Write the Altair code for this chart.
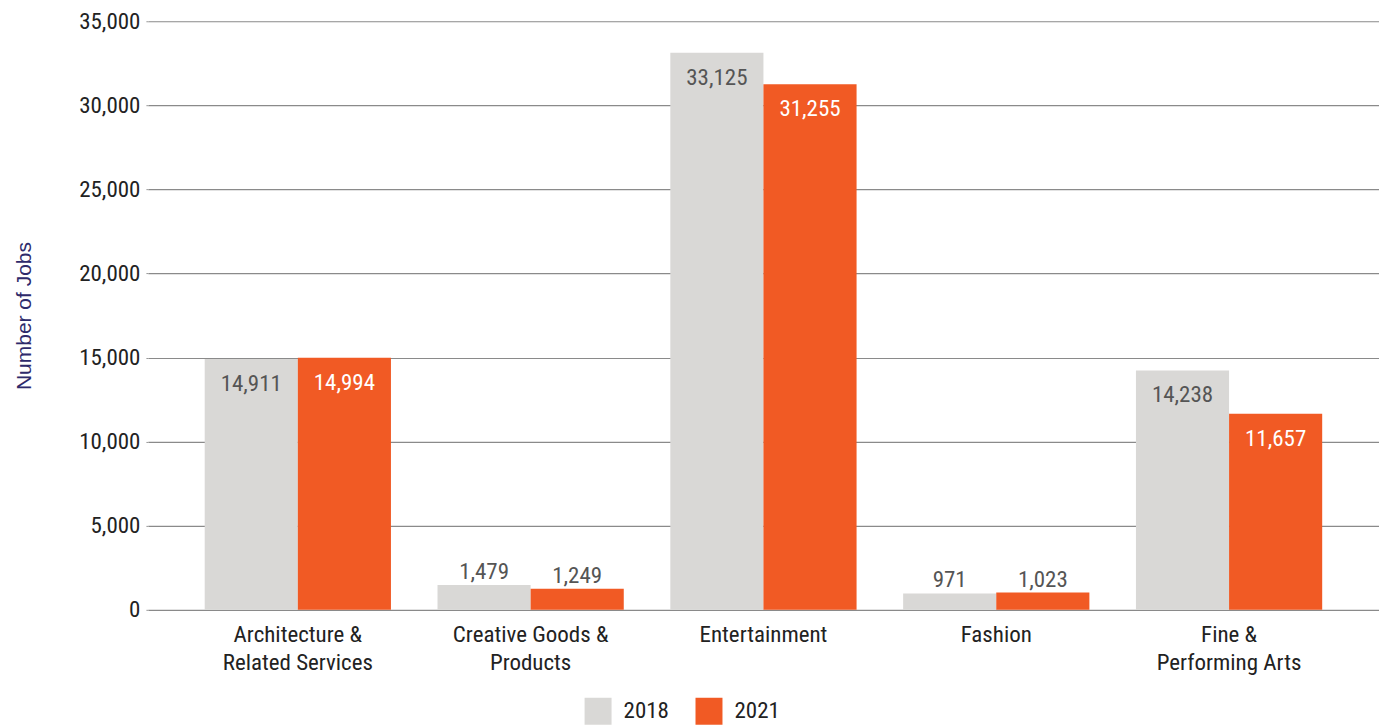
import altair as alt
import pandas as pd

categories = ["Architecture &\nRelated Services", "Creative Goods &\nProducts", "Entertainment", "Fashion", "Fine &\nPerforming Arts"]
years = ["2018", "2021"]
jobs_2018 = [14911, 1479, 33125, 971, 14238]
jobs_2021 = [14994, 1249, 31255, 1023, 11657]
y_ticks = [0, 5000, 10000, 15000, 20000, 25000, 30000, 35000]

rows = []
for c, a, b in zip(categories, jobs_2018, jobs_2021):
    rows.append({"cat": c, "year": "2018", "jobs": a})
    rows.append({"cat": c, "year": "2021", "jobs": b})
df = pd.DataFrame(rows)

FONT = "Roboto Condensed, Liberation Sans Narrow, DejaVu Sans Condensed, Roboto"
GRAY = "#d9d8d6"
ORANGE = "#f15a24"

x_enc = alt.X("cat:N", sort=categories, title=None,
              scale=alt.Scale(paddingInner=0.2, paddingOuter=0.244),
              axis=alt.Axis(labelExpr="split(datum.label, '\\n')", labelAngle=0,
                            labelFont=FONT, labelFontSize=23, labelColor="#222222",
                            labelLineHeight=28, labelPadding=14, ticks=False,
                            domain=False, grid=False))
y_enc = alt.Y("jobs:Q", title="Number of Jobs",
              scale=alt.Scale(domain=[0, 35000], nice=False),
              axis=alt.Axis(values=y_ticks, format=",.0f", labelFont=FONT, labelFontSize=23,
                            labelColor="#222222", labelPadding=6, tickSize=2, tickColor="#999999",
                            domain=False, grid=True, gridColor="#8a8a8a", gridWidth=1.2,
                            titleFont="Liberation Sans", titleFontSize=21,
                            titleFontWeight="normal", titleColor="#2e2a6b", titlePadding=44))
color_enc = alt.Color("year:N", scale=alt.Scale(domain=years, range=[GRAY, ORANGE]),
                      legend=alt.Legend(title=None, orient="none", direction="horizontal",
                                        legendX=437, legendY=677, symbolType="square",
                                        symbolSize=729, symbolStrokeWidth=0, symbolOpacity=1,
                                        labelFont=FONT, labelFontSize=23, labelColor="#222222",
                                        labelOffset=12, columnPadding=26))

base = alt.Chart(df).encode(x=x_enc, xOffset=alt.XOffset("year:N", sort=years))

bars = base.mark_bar(opacity=1).encode(y=y_enc, color=color_enc)

inside = base.transform_filter("datum.jobs > 5000").mark_text(
    baseline="alphabetic", dy=32, font=FONT, fontSize=23
).encode(
    y="jobs:Q", text=alt.Text("jobs:Q", format=","),
    color=alt.Color("year:N", scale=alt.Scale(domain=years, range=["#555555", "#ffffff"]), legend=None)
)

above = base.transform_filter("datum.jobs <= 5000").mark_text(
    baseline="alphabetic", dy=-6, font=FONT, fontSize=23, color="#555555"
).encode(y="jobs:Q", text=alt.Text("jobs:Q", format=","))

chart = alt.layer(bars, inside, above).resolve_scale(color="independent").properties(
    width=1232, height=589,
    autosize=alt.AutoSizeParams(type="none"),
    padding={"left": 140, "top": 13, "right": 0, "bottom": 118}
).configure_view(stroke=None)

chart.save("out.html", embed_options={"renderer": "svg", "actions": False})
